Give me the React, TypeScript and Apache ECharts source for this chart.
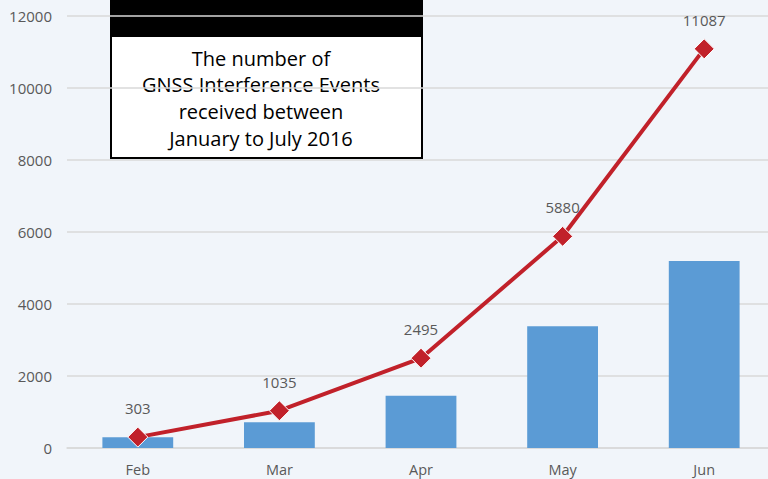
import React, { useEffect, useRef } from "react";
import * as echarts from "echarts";

const categories = ["Feb", "Mar", "Apr", "May", "Jun"];
const barValues = [300, 715, 1450, 3380, 5195];
const lineValues = [303, 1035, 2495, 5880, 11087];
const titleLines = ["The number of", "GNSS Interference Events", "received between", "January to July 2016"];

export default function App() {
  const ref = useRef<HTMLDivElement>(null);
  useEffect(() => {
    if (!ref.current) return;
    const chart = echarts.init(ref.current, null, { renderer: "svg" });
    const font = "'Open Sans', 'Noto Sans', sans-serif";
    chart.setOption({
      animation: false,
      backgroundColor: "#f1f5fa",
      grid: { left: 67, top: 16, bottom: 31, right: -7, outerBoundsMode: "none", containLabel: false },
      xAxis: {
        type: "category",
        data: categories,
        axisLine: { lineStyle: { color: "#d9d9d9", width: 1.5 } },
        axisTick: { show: false },
        axisLabel: { color: "#595959", fontSize: 14.5, fontFamily: font, margin: 14 },
      },
      yAxis: {
        type: "value",
        min: 0,
        max: 12000,
        interval: 2000,
        axisLine: { show: false },
        axisTick: { show: false },
        axisLabel: {
          color: "#595959",
          fontSize: 15,
          fontFamily: font,
          margin: 15,
          formatter: (v: number) => String(v),
        },
        splitLine: { lineStyle: { color: "#d9d9d9", width: 1.5 } },
      },
      series: [
        {
          type: "bar",
          data: barValues,
          barWidth: "50%",
          itemStyle: { color: "#5b9bd5" },
          z: 1,
        },
        {
          type: "line",
          data: lineValues,
          symbol: "diamond",
          symbolSize: [20, 20],
          lineStyle: { color: "#c1212a", width: 4 },
          itemStyle: { color: "#c1212a", borderColor: "#ffffff", borderWidth: 1 },
          label: {
            show: true,
            position: "top",
            distance: 11,
            color: "#595959",
            fontSize: 15,
            fontFamily: font,
          },
          z: 3,
        },
      ],
      graphic: [
        {
          type: "group",
          z: 100,
          children: [
            {
              type: "rect",
              shape: { x: 111, y: -2, width: 311, height: 160 },
              style: { fill: "#ffffff", stroke: "#000000", lineWidth: 2 },
            },
            {
              type: "rect",
              shape: { x: 111, y: -2, width: 311, height: 39 },
              style: { fill: "#000000" },
            },
            ...titleLines.map((t, i) => ({
              type: "text",
              x: 261,
              y: 58 + i * 26.7,
              style: {
                text: t,
                fill: "#000000",
                fontSize: 20,
                fontFamily: font,
                align: "center",
                verticalAlign: "middle",
              },
            })),
          ],
        },
      ],
    });
    return () => chart.dispose();
  }, []);
  return <div ref={ref} style={{ width: 768, height: 479, position: "absolute", left: 0, top: 0 }} />;
}
